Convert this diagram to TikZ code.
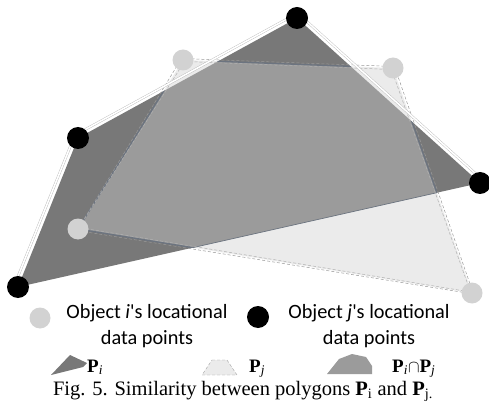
\documentclass[tikz,border=0pt]{standalone}
\usepackage{fontspec}
\setmainfont{Liberation Serif}
\newfontfamily\calib{Carlito}
\definecolor{darkpoly}{HTML}{787878}
\definecolor{lightpoly}{HTML}{EBEBEB}
\definecolor{interpoly}{HTML}{9B9B9B}
\definecolor{interedge}{HTML}{6C7480}
\definecolor{lightpt}{HTML}{D2D2D2}
\tikzset{
  blackpt/.style={circle, fill=black, minimum size=22pt, inner sep=0pt},
  greypt/.style={circle, fill=lightpt, minimum size=21pt, inner sep=0pt},
  whiteedge/.style={draw=gray!55, double=white, double distance=1.6pt, line width=0.4pt},
  lightedge/.style={draw=gray!80, densely dashed, line width=0.5pt},
  legtext/.style={font=\calib\fontsize{20.3}{27}\selectfont, inner sep=0pt, anchor=base},
  plabel/.style={font=\fontsize{19}{22}\selectfont, inner sep=0pt, anchor=base west},
}
\begin{document}
\begin{tikzpicture}[x=1pt,y=-1pt]
\useasboundingbox (0,0) rectangle (489,403);
% vertices
\coordinate (A1) at (297,18);
\coordinate (A2) at (480,183);
\coordinate (A3) at (18,287);
\coordinate (A4) at (78,138);
\coordinate (B1) at (183,60);
\coordinate (B2) at (393,68);
\coordinate (B3) at (472,293);
\coordinate (B4) at (78,229);
% fills
\fill[darkpoly] (A1)--(A2)--(A3)--(A4)--cycle;
\fill[lightpoly] (B1)--(B2)--(B3)--(B4)--cycle;
\begin{scope}
  \clip (A1)--(A2)--(A3)--(A4)--cycle;
  \fill[interpoly] (B1)--(B2)--(B3)--(B4)--cycle;
  \draw[interedge, line width=1.3pt] (B3)--(B4)--(B1)--(B2)--(B3);
\end{scope}
\begin{scope}
  \clip (B1)--(B2)--(B3)--(B4)--cycle;
  \draw[interedge, line width=0.7pt] (A2)--(A3);
\end{scope}
% outlines
\draw[lightedge] ([shift={(-1.5,-1.5)}]B1)--([shift={(1.5,-1.5)}]B2)--([shift={(1.5,1)}]B3)--([shift={(-1,1.5)}]B4)--cycle;
\draw[lightedge, gray!60] ([shift={(1.5,1.5)}]B1)--([shift={(-1.5,1.5)}]B2)--([shift={(-1.5,-1)}]B3)--([shift={(1,-1.5)}]B4)--cycle;
\draw[whiteedge] ([shift={(-3.7,-1.5)}]A3)--([shift={(-3.7,-1.5)}]A4);
\draw[whiteedge] ([shift={(-1.9,-3.5)}]A4)--([shift={(-1.9,-3.5)}]A1);
\draw[whiteedge] ([shift={(2.7,-3)}]A1)--([shift={(2.7,-3)}]A2);
% points
\node[blackpt] (pa1) at (A1) {};
\node[blackpt] (pa2) at (A2) {};
\node[blackpt] (pa3) at (A3) {};
\node[blackpt] (pa4) at (A4) {};
\node[greypt] (pb1) at (B1) {};
\node[greypt] (pb2) at (B2) {};
\node[greypt] (pb3) at (B3) {};
\node[greypt] (pb4) at (B4) {};
% legend row 1
\node[greypt] (lgi) at (40,318) {};
\node[blackpt] (lgj) at (258,317) {};
\node[legtext] (ti1) at (147,318) {Object \textit{i}'s locational};
\node[legtext] (ti2) at (147,344) {data points};
\node[legtext] (tj1) at (369,318) {Object \textit{j}'s locational};
\node[legtext] (tj2) at (369,344) {data points};
% legend row 2
\fill[darkpoly] (51,375)--(70,355)--(87,363)--(83,367)--cycle;
\filldraw[fill=lightpoly, draw=gray!80, densely dashed, line width=0.4pt] (212,360)--(227,360)--(237,375)--(202,375)--cycle;
\fill[interpoly] (327,374)--(339,359)--(352,354)--(366,357)--(372,366)--(372,374)--cycle;
\node[plabel] (lpi) at (87,372) {\textbf{P}\textsubscript{\itshape i}};
\node[plabel] (lpj) at (249,372) {\textbf{P}\textsubscript{\itshape j}};
\node[plabel] (lpij) at (392,372) {\textbf{P}\textsubscript{\itshape i}$\cap$\textbf{P}\textsubscript{\itshape j}};
% caption
\node[font=\fontsize{20.5}{24}\selectfont, inner sep=0pt, anchor=base] (cap) at (243,395) {Fig. 5. Similarity between polygons \textbf{P}\textsubscript{i} and \textbf{P}\textsubscript{j.}};
\end{tikzpicture}
\end{document}
